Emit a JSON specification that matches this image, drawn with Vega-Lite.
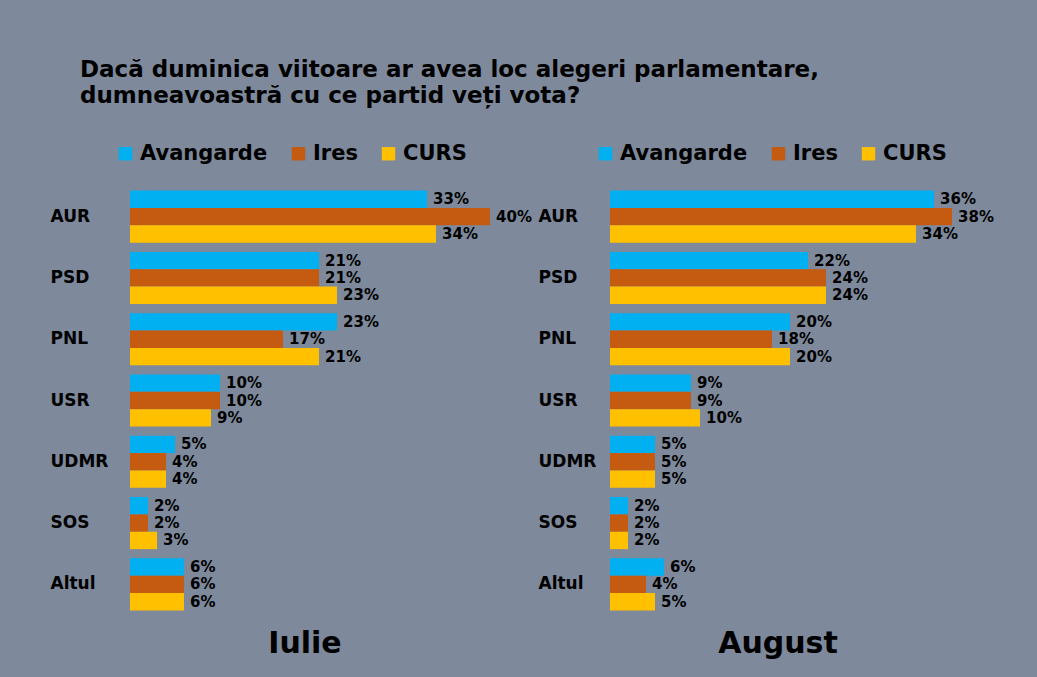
{
  "$schema": "https://vega.github.io/schema/vega-lite/v6.json",
  "background": "#7e899b",
  "padding": {"left": 50, "top": 59, "right": 27, "bottom": 18},
  "title": {
    "text": ["Dacă duminica viitoare ar avea loc alegeri parlamentare,", "dumneavoastră cu ce partid veți vota?"],
    "anchor": "start",
    "dx": 30,
    "font": "DejaVu Sans",
    "fontSize": 23,
    "fontWeight": "bold",
    "color": "#000000",
    "lineHeight": 26,
    "offset": 35
  },
  "datasets": {
    "iulie": [
      {"party": "AUR", "source": "Avangarde", "value": 0.33},
      {"party": "AUR", "source": "Ires", "value": 0.40},
      {"party": "AUR", "source": "CURS", "value": 0.34},
      {"party": "PSD", "source": "Avangarde", "value": 0.21},
      {"party": "PSD", "source": "Ires", "value": 0.21},
      {"party": "PSD", "source": "CURS", "value": 0.23},
      {"party": "PNL", "source": "Avangarde", "value": 0.23},
      {"party": "PNL", "source": "Ires", "value": 0.17},
      {"party": "PNL", "source": "CURS", "value": 0.21},
      {"party": "USR", "source": "Avangarde", "value": 0.10},
      {"party": "USR", "source": "Ires", "value": 0.10},
      {"party": "USR", "source": "CURS", "value": 0.09},
      {"party": "UDMR", "source": "Avangarde", "value": 0.05},
      {"party": "UDMR", "source": "Ires", "value": 0.04},
      {"party": "UDMR", "source": "CURS", "value": 0.04},
      {"party": "SOS", "source": "Avangarde", "value": 0.02},
      {"party": "SOS", "source": "Ires", "value": 0.02},
      {"party": "SOS", "source": "CURS", "value": 0.03},
      {"party": "Altul", "source": "Avangarde", "value": 0.06},
      {"party": "Altul", "source": "Ires", "value": 0.06},
      {"party": "Altul", "source": "CURS", "value": 0.06}
    ],
    "august": [
      {"party": "AUR", "source": "Avangarde", "value": 0.36},
      {"party": "AUR", "source": "Ires", "value": 0.38},
      {"party": "AUR", "source": "CURS", "value": 0.34},
      {"party": "PSD", "source": "Avangarde", "value": 0.22},
      {"party": "PSD", "source": "Ires", "value": 0.24},
      {"party": "PSD", "source": "CURS", "value": 0.24},
      {"party": "PNL", "source": "Avangarde", "value": 0.20},
      {"party": "PNL", "source": "Ires", "value": 0.18},
      {"party": "PNL", "source": "CURS", "value": 0.20},
      {"party": "USR", "source": "Avangarde", "value": 0.09},
      {"party": "USR", "source": "Ires", "value": 0.09},
      {"party": "USR", "source": "CURS", "value": 0.10},
      {"party": "UDMR", "source": "Avangarde", "value": 0.05},
      {"party": "UDMR", "source": "Ires", "value": 0.05},
      {"party": "UDMR", "source": "CURS", "value": 0.05},
      {"party": "SOS", "source": "Avangarde", "value": 0.02},
      {"party": "SOS", "source": "Ires", "value": 0.02},
      {"party": "SOS", "source": "CURS", "value": 0.02},
      {"party": "Altul", "source": "Avangarde", "value": 0.06},
      {"party": "Altul", "source": "Ires", "value": 0.04},
      {"party": "Altul", "source": "CURS", "value": 0.05}
    ]
  },
  "spacing": 6,
  "resolve": {"legend": {"color": "independent"}},
  "hconcat": [
    {
      "data": {"name": "iulie"},
      "width": 400,
      "height": 429,
      "title": {"text": "Iulie", "orient": "bottom", "anchor": "middle", "dx": -25, "fontSize": 30, "font": "DejaVu Sans", "fontWeight": "bold", "color": "#000000", "offset": 14},
      "encoding": {
        "y": {"field": "party", "type": "nominal", "sort": ["AUR", "PSD", "PNL", "USR", "UDMR", "SOS", "Altul"], "title": null,
          "scale": {"paddingInner": 0.15, "paddingOuter": 0.075},
          "axis": {"labelAlign": "left", "labelPadding": 80, "ticks": false, "domain": false, "labelFont": "DejaVu Sans", "labelFontSize": 17, "labelFontWeight": "bold", "labelColor": "#000000"}},
        "yOffset": {"field": "source", "type": "nominal", "sort": ["Avangarde", "Ires", "CURS"], "scale": {"paddingInner": 0, "paddingOuter": 0}},
        "x": {"field": "value", "type": "quantitative", "scale": {"domain": [0, 0.4444]}, "axis": null}
      },
      "layer": [
        {
          "mark": {"type": "bar"},
          "encoding": {
            "color": {"field": "source", "type": "nominal", "sort": ["Avangarde", "Ires", "CURS"],
              "scale": {"domain": ["Avangarde", "Ires", "CURS"], "range": ["#00b0f0", "#c55a11", "#ffc000"]},
              "legend": {"orient": "none", "legendX": -15, "legendY": -43, "direction": "horizontal", "title": null, "symbolType": "square", "symbolSize": 180, "symbolStrokeWidth": 0, "labelFont": "DejaVu Sans", "labelFontSize": 21, "labelFontWeight": "bold", "labelColor": "#000000", "columnPadding": 20, "labelOffset": 4}}
          }
        },
        {
          "transform": [{"filter": "datum.source === 'Avangarde'"}],
          "mark": {"type": "text", "align": "left", "baseline": "middle", "dx": 6, "font": "DejaVu Sans", "fontSize": 15, "fontWeight": 900, "color": "#000000"},
          "encoding": {"text": {"field": "value", "type": "quantitative", "format": ".0%"}}
        },
        {
          "transform": [{"filter": "datum.source !== 'Avangarde'"}],
          "mark": {"type": "text", "align": "left", "baseline": "middle", "dx": 6, "font": "DejaVu Sans", "fontSize": 15, "fontWeight": "bold", "color": "#000000"},
          "encoding": {"text": {"field": "value", "type": "quantitative", "format": ".0%"}}
        }
      ]
    },
    {
      "data": {"name": "august"},
      "width": 400,
      "height": 429,
      "title": {"text": "August", "orient": "bottom", "anchor": "middle", "dx": -32, "fontSize": 30, "font": "DejaVu Sans", "fontWeight": "bold", "color": "#000000", "offset": 14},
      "encoding": {
        "y": {"field": "party", "type": "nominal", "sort": ["AUR", "PSD", "PNL", "USR", "UDMR", "SOS", "Altul"], "title": null,
          "scale": {"paddingInner": 0.15, "paddingOuter": 0.075},
          "axis": {"labelAlign": "left", "labelPadding": 72, "ticks": false, "domain": false, "labelFont": "DejaVu Sans", "labelFontSize": 17, "labelFontWeight": "bold", "labelColor": "#000000"}},
        "yOffset": {"field": "source", "type": "nominal", "sort": ["Avangarde", "Ires", "CURS"], "scale": {"paddingInner": 0, "paddingOuter": 0}},
        "x": {"field": "value", "type": "quantitative", "scale": {"domain": [0, 0.4444]}, "axis": null}
      },
      "layer": [
        {
          "mark": {"type": "bar"},
          "encoding": {
            "color": {"field": "source", "type": "nominal", "sort": ["Avangarde", "Ires", "CURS"],
              "scale": {"domain": ["Avangarde", "Ires", "CURS"], "range": ["#00b0f0", "#c55a11", "#ffc000"]},
              "legend": {"orient": "none", "legendX": -15, "legendY": -43, "direction": "horizontal", "title": null, "symbolType": "square", "symbolSize": 180, "symbolStrokeWidth": 0, "labelFont": "DejaVu Sans", "labelFontSize": 21, "labelFontWeight": "bold", "labelColor": "#000000", "columnPadding": 20, "labelOffset": 4}}
          }
        },
        {
          "transform": [{"filter": "datum.source === 'Avangarde'"}],
          "mark": {"type": "text", "align": "left", "baseline": "middle", "dx": 6, "font": "DejaVu Sans", "fontSize": 15, "fontWeight": 900, "color": "#000000"},
          "encoding": {"text": {"field": "value", "type": "quantitative", "format": ".0%"}}
        },
        {
          "transform": [{"filter": "datum.source !== 'Avangarde'"}],
          "mark": {"type": "text", "align": "left", "baseline": "middle", "dx": 6, "font": "DejaVu Sans", "fontSize": 15, "fontWeight": "bold", "color": "#000000"},
          "encoding": {"text": {"field": "value", "type": "quantitative", "format": ".0%"}}
        }
      ]
    }
  ],
  "config": {
    "view": {"stroke": null},
    "font": "DejaVu Sans"
  }
}
